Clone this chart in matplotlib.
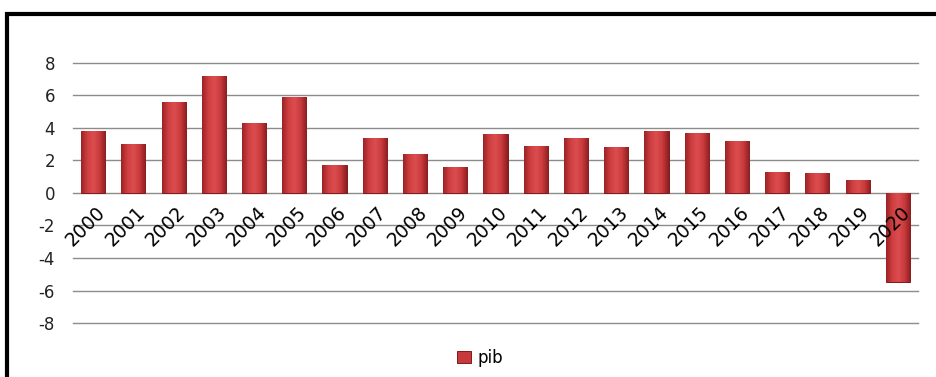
import numpy as np
import matplotlib.pyplot as plt
import matplotlib.transforms as mtransforms
from matplotlib.patches import Rectangle
from matplotlib.colors import LinearSegmentedColormap

years = [str(y) for y in range(2000, 2021)]
pib = [3.8, 3.0, 5.6, 7.2, 4.3, 5.9, 1.7, 3.4, 2.4, 1.6, 3.6,
       2.9, 3.4, 2.8, 3.8, 3.7, 3.2, 1.3, 1.2, 0.8, -5.5]
yticks = [-8, -6, -4, -2, 0, 2, 4, 6, 8]

W, H = 936, 377
fig = plt.figure(figsize=(W / 100, H / 100), dpi=100)
ax = fig.add_axes([73 / W, 1 - 323 / H, (918 - 73) / W, (323 - 63) / H])
ax.set_axisbelow(False)

x = list(range(len(years)))
bars = ax.bar(x, pib, width=0.6, color='#c73a3c', edgecolor='#7e1a1d',
              linewidth=0.7, label='pib', zorder=2)

# shaded look of the bars
shade = LinearSegmentedColormap.from_list(
    'shade', ['#9a2225', '#cf3f41', '#dc4d4f', '#c93a3c', '#8a1d20'])
grad = np.linspace(0, 1, 64).reshape(1, -1)
for b in bars:
    x0, y0 = b.get_x(), b.get_y()
    w, h = b.get_width(), b.get_height()
    im = ax.imshow(grad, cmap=shade, aspect='auto', zorder=2.1,
                   extent=[x0, x0 + w, y0, y0 + h], interpolation='bicubic')
    im.set_clip_path(b)

for v in yticks:
    ax.axhline(v, color='#8c8c8c', linewidth=1, zorder=1, clip_on=False)

ax.set_xlim(-0.5, len(years) - 0.5)
ax.set_ylim(-8, 8)
ax.set_yticks(yticks)
ax.set_yticklabels([str(v) for v in yticks], fontsize=12, color='#222222')
ax.tick_params(axis='y', length=0, pad=13)

# category labels sit at the zero line
for s in ['top', 'right', 'left']:
    ax.spines[s].set_visible(False)
ax.spines['bottom'].set_position(('data', 0))
ax.spines['bottom'].set_visible(False)
ax.set_xticks(x)
ax.set_xticklabels(years, fontsize=13.5, rotation=45, ha='right', va='center',
                   rotation_mode='anchor')
ax.tick_params(axis='x', length=0, pad=12)
offset = mtransforms.ScaledTranslation(9 / 100, 0, fig.dpi_scale_trans)
for lbl in ax.get_xticklabels():
    lbl.set_transform(lbl.get_transform() + offset)

fig.legend(handles=[bars], labels=['pib'], loc='center', bbox_to_anchor=(0.513, 0.05),
           frameon=False, fontsize=12, handlelength=0.8, handleheight=0.7,
           handletextpad=0.4)

# outer chart frame (cut off at right and bottom)
fig.patches.append(Rectangle((6.5 / W, -0.1), 1.2, 1 - 14 / H + 0.1,
                             transform=fig.transFigure, fill=False,
                             edgecolor='black', linewidth=3))

fig.savefig('out.png', dpi=100)
